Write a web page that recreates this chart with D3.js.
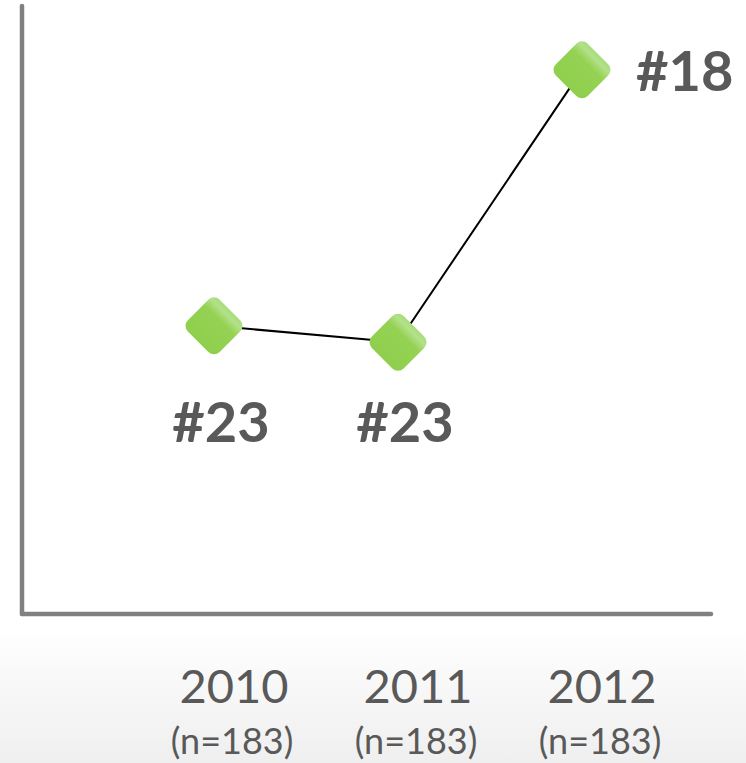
<!DOCTYPE html>
<html lang="en">
	<head>
		<meta charset="utf-8">
		<title>Ranking 2010-2012</title>
		<script src="https://cdn.jsdelivr.net/npm/d3@7"></script>
		<style type="text/css">
			html, body { margin: 0; padding: 0; background: #fff; }
			svg { display: block; }
			.year { font-family: Lato, "Open Sans", sans-serif; fill: #595959; }
			.rank { font-family: Lato, "Open Sans", sans-serif; font-weight: bold; fill: #595959; }
		</style>
	</head>
	<body>
		<script type="text/javascript">

			var w = 746;
			var h = 763;

			// data
			var years = [2010, 2011, 2012];
			var sampleSizes = ["(n=183)", "(n=183)", "(n=183)"];
			var ranks = ["#23", "#23", "#18"];
			var scores = [47.4, 44.7, 89.5];   // plotted position (higher = better)
			var labelSide = ["below", "below", "right"];

			var svg = d3.select("body").append("svg")
				.attr("width", w)
				.attr("height", h);

			var defs = svg.append("defs");

			// faint grey at the bottom
			var bg = defs.append("linearGradient")
				.attr("id", "bg").attr("x1", 0).attr("y1", 0).attr("x2", 0).attr("y2", 1);
			bg.append("stop").attr("offset", "0%").attr("stop-color", "#ffffff");
			bg.append("stop").attr("offset", "100%").attr("stop-color", "#efefef");

			svg.append("rect")
				.attr("x", 0).attr("y", 625)
				.attr("width", w).attr("height", h - 625)
				.attr("fill", "url(#bg)");

			var green = defs.append("linearGradient")
				.attr("id", "green").attr("x1", 0).attr("y1", 0).attr("x2", 0).attr("y2", 1);
			green.append("stop").attr("offset", "0%").attr("stop-color", "#a9dc7a");
			green.append("stop").attr("offset", "12%").attr("stop-color", "#b3e18a");
			green.append("stop").attr("offset", "32%").attr("stop-color", "#95d254");
			green.append("stop").attr("offset", "100%").attr("stop-color", "#90cf4d");

			// scales
			var x = d3.scaleLinear()
				.domain([2010, 2012])
				.range([214, 582]);

			var y = d3.scaleLinear()
				.domain([0, 100])
				.range([614, 6]);

			// axes (plain lines, no ticks)
			var axisColor = "#808080";
			svg.append("line")
				.attr("x1", 22).attr("x2", 22)
				.attr("y1", y(100)).attr("y2", y(0))
				.attr("stroke", axisColor).attr("stroke-width", 4.5)
				.attr("stroke-linecap", "round");
			svg.append("line")
				.attr("x1", 22).attr("x2", 711)
				.attr("y1", y(0)).attr("y2", y(0))
				.attr("stroke", axisColor).attr("stroke-width", 4.5)
				.attr("stroke-linecap", "round");

			var data = years.map(function(d, i) {
				return { year: d, n: sampleSizes[i], rank: ranks[i], score: scores[i], side: labelSide[i] };
			});

			// connector
			var line = d3.line()
				.x(function(d) { return x(d.year); })
				.y(function(d) { return y(d.score); });

			svg.append("path")
				.datum(data)
				.attr("d", line)
				.attr("fill", "none")
				.attr("stroke", "#000")
				.attr("stroke-width", 2);

			// diamond markers
			var side = 45;
			svg.selectAll("rect.marker")
				.data(data)
				.enter()
				.append("rect")
				.attr("class", "marker")
				.attr("x", -side / 2).attr("y", -side / 2)
				.attr("width", side).attr("height", side)
				.attr("rx", 8).attr("ry", 8)
				.attr("fill", "url(#green)")
				.attr("transform", function(d) {
					return "translate(" + x(d.year) + "," + y(d.score) + ") rotate(45)";
				});

			// rank labels
			svg.selectAll("text.rank")
				.data(data)
				.enter()
				.append("text")
				.attr("class", "rank")
				.attr("font-size", 56)
				.attr("x", function(d) { return d.side == "right" ? x(d.year) + 54 : x(d.year) + 7; })
				.attr("y", function(d) { return d.side == "right" ? y(d.score) + 21 : 442; })
				.attr("text-anchor", function(d) { return d.side == "right" ? "start" : "middle"; })
				.text(function(d) { return d.rank; });

			// category labels
			svg.selectAll("text.year")
				.data(data)
				.enter()
				.append("text")
				.attr("class", "year")
				.attr("font-size", 47)
				.attr("x", function(d) { return x(d.year) + 20; })
				.attr("y", 703)
				.attr("text-anchor", "middle")
				.text(function(d) { return d.year; });

			svg.selectAll("text.n")
				.data(data)
				.enter()
				.append("text")
				.attr("class", "year")
				.attr("font-size", 36)
				.attr("x", function(d) { return x(d.year) + 18; })
				.attr("y", 754)
				.attr("text-anchor", "middle")
				.text(function(d) { return d.n; });

		</script>
	</body>
</html>
